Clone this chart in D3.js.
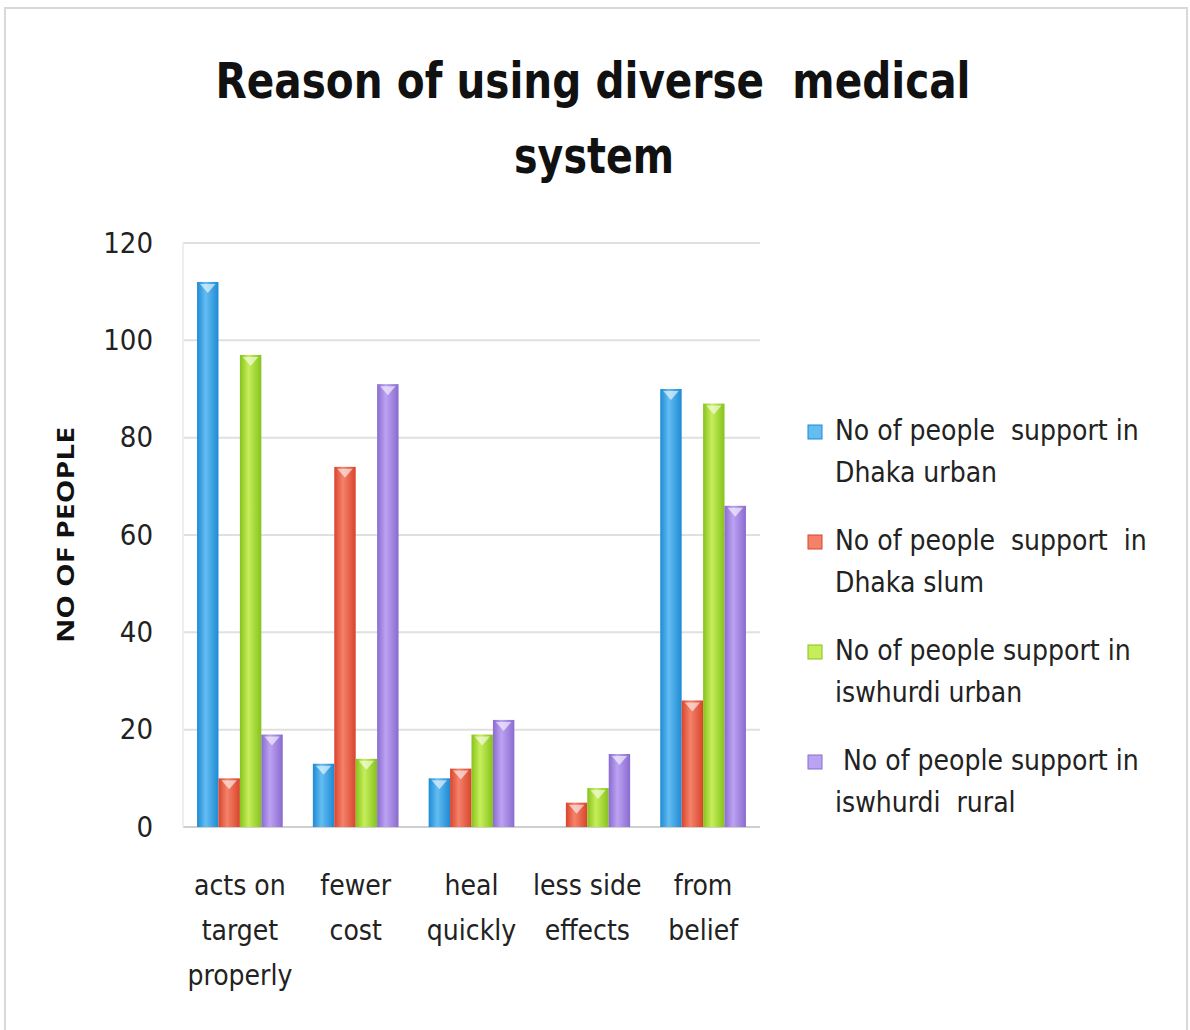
<!DOCTYPE html>
<html>
<head>
<meta charset="utf-8">
<script src="https://cdn.jsdelivr.net/npm/d3@7"></script>
<style>
  body { margin: 0; background: #fff; }
  svg { display: block; }
</style>
</head>
<body>
<svg id="chart" width="1190" height="1030"></svg>
<script>
// Data
var categories = [
    ["acts on", "target", "properly"],
    ["fewer", "cost"],
    ["heal", "quickly"],
    ["less side", "effects"],
    ["from", "belief"]
];
var seriesNames = [
    ["No of people  support in", "Dhaka urban"],
    ["No of people  support  in", "Dhaka slum"],
    ["No of people support in", "iswhurdi urban"],
    [" No of people support in", "iswhurdi  rural"]
];
var dhakaUrban    = [112, 13, 10, 0, 90];
var dhakaSlum     = [10, 74, 12, 5, 26];
var iswhurdiUrban = [97, 14, 19, 8, 87];
var iswhurdiRural = [19, 91, 22, 15, 66];
var yTicks = [0, 20, 40, 60, 80, 100, 120];

var seriesValues = [dhakaUrban, dhakaSlum, iswhurdiUrban, iswhurdiRural];
// [edge, centre] shades for the cylinder look
var seriesColors = [
    ["#1e8ad4", "#63bdf2"],
    ["#d9442c", "#f4826a"],
    ["#86c21c", "#c6ee5a"],
    ["#8a6bcf", "#bca2f2"]
];

var lightFont = "'Liberation Sans Narrow', 'DejaVu Sans Condensed', sans-serif";

var svg = d3.select("#chart");

// faint frame around the whole chart
svg.append("rect")
    .attr("x", 5).attr("y", 8)
    .attr("width", 1182).attr("height", 1030)
    .attr("fill", "none")
    .attr("stroke", "#d8d8d8")
    .attr("stroke-width", 2);

// Title
var title = svg.append("g")
    .attr("font-family", "'DejaVu Sans Condensed', 'Open Sans', sans-serif")
    .attr("font-weight", "bold")
    .attr("font-size", 50)
    .attr("fill", "#111")
    .attr("text-anchor", "middle");
title.append("text")
    .attr("x", 593).attr("y", 98)
    .attr("xml:space", "preserve")
    .attr("textLength", 755)
    .attr("lengthAdjust", "spacingAndGlyphs")
    .text("Reason of using diverse  medical");
title.append("text")
    .attr("x", 594).attr("y", 173)
    .attr("textLength", 160)
    .attr("lengthAdjust", "spacingAndGlyphs")
    .text("system");

// Scales
var x0 = d3.scaleBand()
    .domain(d3.range(categories.length))
    .range([182, 761])
    .paddingInner(0.26)
    .paddingOuter(0.13);

var x1 = d3.scaleBand()
    .domain(d3.range(seriesValues.length))
    .range([0, x0.bandwidth()]);

var y = d3.scaleLinear()
    .domain([0, 120])
    .range([827, 243]);

// gradients
var defs = svg.append("defs");
seriesColors.forEach(function (c, i) {
    var g = defs.append("linearGradient")
        .attr("id", "grad" + i)
        .attr("x1", "0").attr("x2", "1")
        .attr("y1", "0").attr("y2", "0");
    g.append("stop").attr("offset", "0%").attr("stop-color", c[0]);
    g.append("stop").attr("offset", "40%").attr("stop-color", c[1]);
    g.append("stop").attr("offset", "100%").attr("stop-color", c[0]);
});

// Grid lines
svg.append("g")
    .selectAll("line")
    .data(yTicks)
    .join("line")
      .attr("x1", 183).attr("x2", 760)
      .attr("y1", function (d) { return y(d); })
      .attr("y2", function (d) { return y(d); })
      .attr("stroke", function (d) { return d === 0 ? "#cfcfcf" : "#e0e0e0"; })
      .attr("stroke-width", 2);

svg.append("line")
    .attr("x1", 183).attr("x2", 183)
    .attr("y1", y(120)).attr("y2", y(0))
    .attr("stroke", "#eeeeee")
    .attr("stroke-width", 2);

// Y axis labels
var yAxis = d3.axisLeft(y)
    .tickValues(yTicks)
    .tickSize(0)
    .tickPadding(0);
var yg = svg.append("g")
    .attr("transform", "translate(153,0)")
    .call(yAxis);
yg.select(".domain").remove();
yg.selectAll("text")
    .attr("font-family", lightFont)
    .attr("font-size", 29)
    .attr("fill", "#222")
    .attr("dy", "0.32em");

svg.append("text")
    .attr("transform", "translate(74,535) rotate(-90)")
    .attr("text-anchor", "middle")
    .attr("font-family", "'Open Sans', 'DejaVu Sans', sans-serif")
    .attr("font-weight", "bold")
    .attr("font-size", 23)
    .attr("textLength", 216)
    .attr("lengthAdjust", "spacingAndGlyphs")
    .attr("fill", "#111")
    .text("NO OF PEOPLE");

// Bars
var groups = svg.append("g")
    .selectAll("g")
    .data(categories.map(function (c, i) { return i; }))
    .join("g")
      .attr("transform", function (i) { return "translate(" + x0(i) + ",0)"; });

var bars = groups.selectAll("g")
    .data(function (i) {
        return seriesValues.map(function (vals, s) { return {s: s, v: vals[i]}; })
            .filter(function (d) { return d.v > 0; });
    })
    .join("g");

bars.append("rect")
    .attr("x", function (d) { return x1(d.s); })
    .attr("y", function (d) { return y(d.v); })
    .attr("width", x1.bandwidth())
    .attr("height", function (d) { return y(0) - y(d.v); })
    .attr("fill", function (d) { return "url(#grad" + d.s + ")"; });

// small light chevron on the bar top
bars.append("path")
    .attr("d", function (d) {
        var l = x1(d.s) + 3, r = x1(d.s) + x1.bandwidth() - 3, t = y(d.v) + 2;
        var m = (l + r) / 2;
        return "M" + l + "," + t + "L" + r + "," + t + "L" + m + "," + (t + 9) + "Z";
    })
    .attr("fill", "#fff")
    .attr("opacity", 0.6);

// X labels
var xl = svg.append("g")
    .attr("font-family", lightFont)
    .attr("font-size", 28)
    .attr("fill", "#222")
    .attr("text-anchor", "middle");
xl.selectAll("text")
    .data(categories)
    .join("text")
      .attr("x", function (d, i) { return x0(i) + x0.bandwidth() / 2; })
      .attr("y", 895)
      .each(function (lines) {
          var t = d3.select(this);
          lines.forEach(function (ln, k) {
              t.append("tspan")
                  .attr("x", t.attr("x"))
                  .attr("dy", k === 0 ? 0 : 45)
                  .text(ln);
          });
      });

// Legend
var legend = svg.append("g")
    .attr("font-family", lightFont)
    .attr("font-size", 28)
    .attr("fill", "#222");
var items = legend.selectAll("g")
    .data(seriesNames)
    .join("g")
      .attr("transform", function (d, i) { return "translate(808," + (440 + i * 110) + ")"; });
items.append("rect")
    .attr("x", 0).attr("y", -15)
    .attr("width", 14).attr("height", 14)
    .attr("fill", function (d, i) { return seriesColors[i][1]; })
    .attr("stroke", function (d, i) { return seriesColors[i][0]; });
items.append("text")
    .attr("x", 27).attr("y", 0)
    .attr("xml:space", "preserve")
    .each(function (lines) {
        var t = d3.select(this);
        lines.forEach(function (ln, k) {
            t.append("tspan")
                .attr("x", 27)
                .attr("dy", k === 0 ? 0 : 42)
                .text(ln);
        });
    });
</script>
</body>
</html>
